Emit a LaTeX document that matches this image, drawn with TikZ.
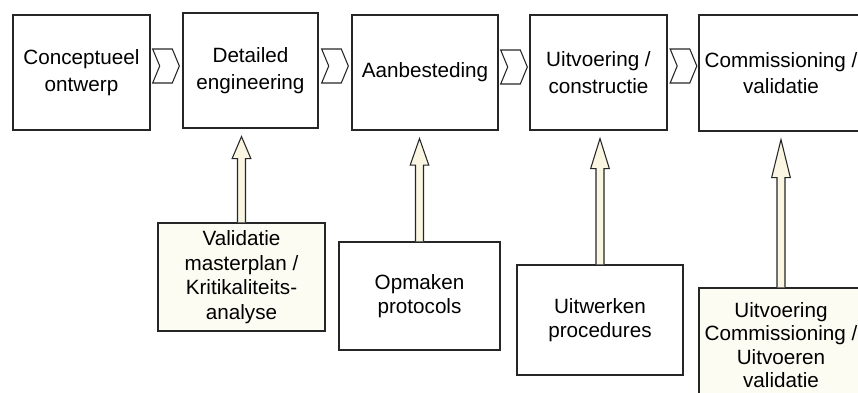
\documentclass[tikz,border=0pt]{standalone}
\usepackage{fontspec}
\setmainfont{Liberation Sans}
\usetikzlibrary{shapes.symbols,calc}
\definecolor{creamshaft}{RGB}{250,246,226}
\definecolor{creambox}{RGB}{253,252,243}
\tikzset{
    phase/.style={draw=black!85,line width=0.8pt,fill=white,align=center,inner sep=2pt,font=\fontsize{15.5}{20}\selectfont},
    task/.style={phase,fill=creambox,font=\fontsize{15.5}{18.5}\selectfont},
    chev/.style={draw=black!85,line width=0.8pt,signal,signal from=west,signal to=east,signal pointer angle=135,minimum width=20pt,minimum height=25.5pt,inner sep=0pt},
    lift/.style={draw=black!85,line width=0.8pt,fill=creamshaft,line join=miter},
}
\newcommand{\liftarrow}[3]{%
  \draw[lift] let \p1=(#1.north), \p2=(#2.south) in
    (\x1-3pt,\y1) -- (\x1-3pt,\y2-6pt-#3) -- (\x1-7pt,\y2-6pt-#3) -- (\x1,\y2-6pt)
    -- (\x1+7pt,\y2-6pt-#3) -- (\x1+3pt,\y2-6pt-#3) -- (\x1+3pt,\y1);
}

\begin{document}
\begin{tikzpicture}[x=0.75pt,y=-0.75pt]
\useasboundingbox (0,0) rectangle (858,393);
% phases
\node[phase,minimum width=102.75pt,minimum height=86.25pt] (concept) at (81.5,72.5) {Conceptueel\\ontwerp};
\node[phase,minimum width=101.25pt,minimum height=86.25pt] (detail) at (250.5,70.5) {Detailed\\engineering};
\node[phase,minimum width=109.5pt,minimum height=86.25pt] (tender) at (425,72.5) {Aanbesteding};
\node[phase,minimum width=102.75pt,minimum height=86.25pt] (build) at (598.5,72.5) {Uitvoering /\\constructie};
\node[phase,minimum width=123pt,minimum height=87pt] (commission) at (781,73) {Commissioning /\\validatie};
\node[chev] (c1) at (166,66) {};
\node[chev] (c2) at (335,66) {};
\node[chev] (c3) at (514,67) {};
\node[chev] (c4) at (683.5,66) {};
% tasks
\node[task,minimum width=125.25pt,minimum height=81pt] (masterplan) at (241.5,277) {Validatie\\masterplan /\\Kritikaliteits-\\analyse};
\node[task,fill=white,minimum width=120.75pt,minimum height=81pt] (protocols) at (419.5,296) {Opmaken\\protocols};
\node[task,fill=white,minimum width=124.5pt,minimum height=82.5pt] (procedures) at (600,320) {Uitwerken\\procedures};
\node[task,minimum width=123pt,minimum height=85.5pt,font=\fontsize{15.5}{17.5}\selectfont] (cxval) at (781,345) {Uitvoering\\Commissioning /\\Uitvoeren\\validatie};
\liftarrow{masterplan}{detail}{16.5pt}
\liftarrow{protocols}{tender}{20pt}
\liftarrow{procedures}{build}{22.5pt}
\liftarrow{cxval}{commission}{28.5pt}
\end{tikzpicture}
\end{document}
